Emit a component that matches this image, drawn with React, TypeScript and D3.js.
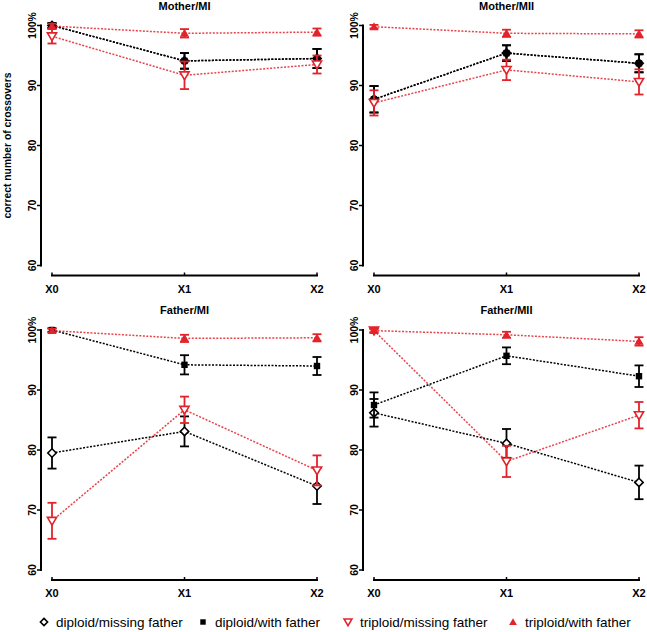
import React from "react";
import * as d3 from "d3";

const categories = ["X0", "X1", "X2"];
const yTicks = [60, 70, 80, 90, 100];
const yTickLabels = ["60", "70", "80", "90", "100%"];
const panelTitles = ["Mother/MI", "Mother/MII", "Father/MI", "Father/MII"];
const seriesNames = [
  "diploid/missing father",
  "diploid/with father",
  "triploid/missing father",
  "triploid/with father",
];
const yAxisTitle = "correct number of crossovers";

// values per panel: [diploid/missing, diploid/with, triploid/missing, triploid/with] x [X0, X1, X2]
const motherMIMean = [
  [100, 94.1, 94.5],
  [100, 94.1, 94.5],
  [98.2, 91.7, 93.5],
  [99.9, 98.7, 98.9],
];
const motherMIErr = [
  [0.4, 1.3, 1.6],
  [0.4, 1.3, 1.6],
  [1.2, 2.3, 1.5],
  [0.4, 0.7, 0.6],
];
const motherMIIMean = [
  [87.7, 95.4, 93.7],
  [87.7, 95.4, 93.7],
  [87.1, 92.6, 90.6],
  [99.8, 98.7, 98.6],
];
const motherMIIErr = [
  [2.2, 1.3, 1.5],
  [2.2, 1.3, 1.5],
  [2.1, 1.7, 2.1],
  [0.3, 0.6, 0.6],
];
const fatherMIMean = [
  [79.5, 83.1, 74.0],
  [100, 94.2, 94.0],
  [68.2, 86.7, 76.6],
  [99.9, 98.6, 98.7],
];
const fatherMIErr = [
  [2.6, 2.5, 3.0],
  [0.3, 1.6, 1.5],
  [3.0, 2.2, 2.5],
  [0.3, 0.6, 0.6],
];
const fatherMIIMean = [
  [86.2, 81.1, 74.6],
  [87.5, 95.7, 92.3],
  [99.9, 78.1, 85.8],
  [99.9, 99.2, 98.1],
];
const fatherMIIErr = [
  [2.3, 2.4, 2.8],
  [2.1, 1.4, 1.8],
  [0.3, 2.6, 2.2],
  [0.3, 0.5, 0.7],
];

const panelMeans = [motherMIMean, motherMIIMean, fatherMIMean, fatherMIIMean];
const panelErrs = [motherMIErr, motherMIIErr, fatherMIErr, fatherMIIErr];

const RED = "#e3232b";
const BLACK = "#000000";
const seriesColors = [BLACK, BLACK, RED, RED];
const seriesShapes = ["diamondOpen", "squareFilled", "triDownOpen", "triUpFilled"];
const FONT = "'Liberation Sans', Arial, Helvetica, sans-serif";

function Marker({ shape, x, y, color, k = 1 }: { shape: string; x: number; y: number; color: string; k?: number }) {
  if (shape === "diamondOpen") {
    const r = 4.2 * k;
    return (
      <path
        d={`M${x},${y - r}L${x + r},${y}L${x},${y + r}L${x - r},${y}Z`}
        fill="#fff"
        stroke={color}
        strokeWidth={1.6}
      />
    );
  }
  if (shape === "squareFilled") {
    const s = 3.2 * k;
    return <rect x={x - s} y={y - s} width={2 * s} height={2 * s} fill={color} />;
  }
  if (shape === "triDownOpen") {
    const r = 4.6 * k;
    return (
      <path
        d={`M${x - r},${y - r * 0.75}L${x + r},${y - r * 0.75}L${x},${y + r * 0.95}Z`}
        fill="#fff"
        stroke={color}
        strokeWidth={1.6}
      />
    );
  }
  const r = 4.6 * k;
  return (
    <path
      d={`M${x - r},${y + r * 0.75}L${x + r},${y + r * 0.75}L${x},${y - r * 0.95}Z`}
      fill={color}
    />
  );
}

function Panel({ idx, ox, oy, showYTitle }: { idx: number; ox: number; oy: number; showYTitle: boolean }) {
  const axisX = ox;
  const x = d3.scalePoint<string>().domain(categories).range([ox + 11, ox + 276]);
  const y = d3.scaleLinear().domain([60, 100]).range([oy + 240, oy]);
  const means = panelMeans[idx];
  const errs = panelErrs[idx];
  const xAxisY = oy + 250;
  const line = d3
    .line<number>()
    .x((_, i) => x(categories[i]) as number)
    .y((d) => y(d));
  return (
    <g>
      <text
        x={x("X1") as number}
        y={oy - 16}
        textAnchor="middle"
        fontFamily={FONT}
        fontWeight="bold"
        fontSize={11}
      >
        {panelTitles[idx]}
      </text>
      {/* y axis */}
      <line x1={axisX} x2={axisX} y1={y(100) - 1} y2={y(60) + 1} stroke="#000" strokeWidth={2} />
      {yTicks.map((t, i) => (
        <g key={t}>
          <line x1={axisX - 4} x2={axisX} y1={y(t)} y2={y(t)} stroke="#000" strokeWidth={1.5} />
          <text
            transform={`translate(${axisX - 5.5},${y(t)}) rotate(-90)`}
            textAnchor="middle"
            fontFamily={FONT}
            fontWeight="bold"
            fontSize={10.5}
          >
            {yTickLabels[i]}
          </text>
        </g>
      ))}
      {showYTitle && (
        <text
          transform={`translate(${axisX - 30.5},${oy + 120}) rotate(-90)`}
          textAnchor="middle"
          fontFamily={FONT}
          fontWeight="bold"
          fontSize={10.3}
        >
          {yAxisTitle}
        </text>
      )}
      {/* x axis */}
      <line
        x1={(x("X0") as number) - 1}
        x2={(x("X2") as number) + 1}
        y1={xAxisY}
        y2={xAxisY}
        stroke="#000"
        strokeWidth={2}
      />
      {categories.map((c) => (
        <g key={c}>
          <line x1={x(c) as number} x2={x(c) as number} y1={xAxisY} y2={xAxisY - 3} stroke="#000" strokeWidth={1.5} />
          <text
            x={x(c) as number}
            y={xAxisY + 17}
            textAnchor="middle"
            fontFamily={FONT}
            fontWeight="bold"
            fontSize={11}
          >
            {c}
          </text>
        </g>
      ))}
      {/* series */}
      {means.map((vals, s) => (
        <g key={s}>
          <path
            d={line(vals) || ""}
            fill="none"
            stroke={seriesColors[s]}
            strokeWidth={1.5}
            strokeDasharray="2,1.5"
            opacity={s >= 2 ? 0.85 : 1}
          />
          {vals.map((v, i) => {
            const cx = x(categories[i]) as number;
            const e = errs[s][i];
            const y1 = y(v + e);
            const y2 = y(v - e);
            return (
              <g key={i} stroke={seriesColors[s]} strokeWidth={1.8}>
                <line x1={cx} x2={cx} y1={y1} y2={y2} />
                <line x1={cx - 4.5} x2={cx + 4.5} y1={y1} y2={y1} />
                <line x1={cx - 4.5} x2={cx + 4.5} y1={y2} y2={y2} />
              </g>
            );
          })}
          {vals.map((v, i) => (
            <Marker
              key={"m" + i}
              shape={seriesShapes[s]}
              x={x(categories[i]) as number}
              y={y(v)}
              color={seriesColors[s]}
            />
          ))}
        </g>
      ))}
    </g>
  );
}

const legendX = [44, 203, 348, 513];

export default function App() {
  const panelOrigins = [
    [41, 25.5],
    [363, 25.5],
    [41, 330],
    [363, 330],
  ];
  return (
    <svg
      width={647}
      height={632}
      style={{ position: "absolute", left: 0, top: 0, background: "#fff" }}
    >
      <rect width={647} height={632} fill="#fff" />
      {panelOrigins.map(([ox, oy], i) => (
        <Panel key={i} idx={i} ox={ox} oy={oy} showYTitle={i === 0} />
      ))}
      {seriesNames.map((name, i) => (
        <g key={name}>
          <Marker shape={seriesShapes[i]} x={legendX[i]} y={622} color={seriesColors[i]} k={0.85} />
          <text x={legendX[i] + 12} y={627} fontFamily={FONT} fontSize={13.5} fill="#000">
            {name}
          </text>
        </g>
      ))}
    </svg>
  );
}
